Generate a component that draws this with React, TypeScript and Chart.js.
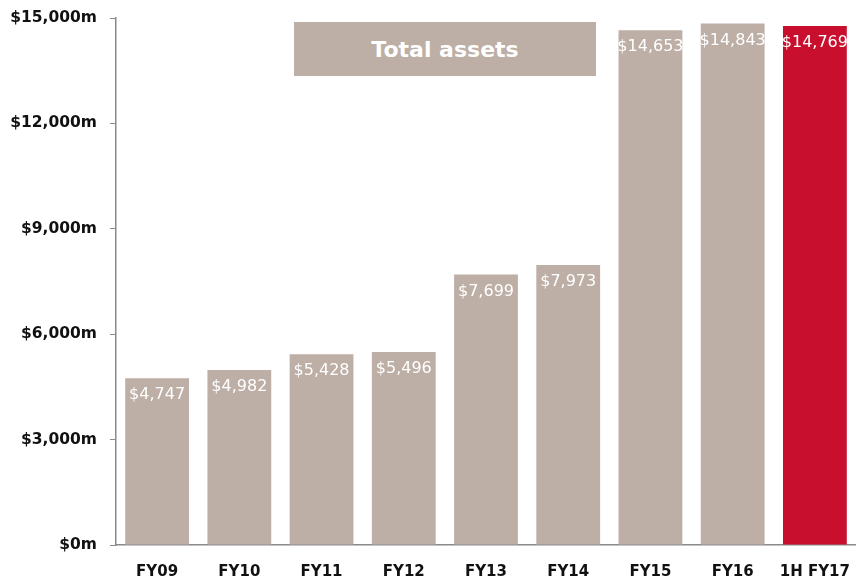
import React, { useEffect, useRef } from "react";
import { Chart, registerables } from "chart.js";

Chart.register(...registerables);

const categories = ["FY09", "FY10", "FY11", "FY12", "FY13", "FY14", "FY15", "FY16", "1H FY17"];
const totalAssets = [4747, 4982, 5428, 5496, 7699, 7973, 14653, 14843, 14769];
const barColors = ["#bdaea6", "#bdaea6", "#bdaea6", "#bdaea6", "#bdaea6", "#bdaea6", "#bdaea6", "#bdaea6", "#c8102e"];
const yMax = 15000;
const yStep = 3000;
const chartTitle = "Total assets";

const fmt = (v: number) => "$" + Math.round(v).toLocaleString("en-US");

const valueLabels = {
  id: "valueLabels",
  afterDatasetsDraw(chart: any) {
    const ctx = chart.ctx;
    const meta = chart.getDatasetMeta(0);
    ctx.save();
    ctx.fillStyle = "#ffffff";
    ctx.font = "16px 'DejaVu Sans'";
    ctx.textAlign = "center";
    ctx.textBaseline = "middle";
    meta.data.forEach((bar: any, i: number) => {
      ctx.fillText(fmt(totalAssets[i]), bar.x, bar.y + 17);
    });
    ctx.restore();
  },
};

export default function App() {
  const ref = useRef<HTMLCanvasElement | null>(null);
  useEffect(() => {
    if (!ref.current) return;
    const chart = new Chart(ref.current, {
      type: "bar",
      data: {
        labels: categories,
        datasets: [
          {
            data: totalAssets,
            backgroundColor: barColors,
            categoryPercentage: 0.8,
            barPercentage: 0.97,
          },
        ],
      },
      options: {
        responsive: false,
        animation: false,
        layout: { padding: { top: 18, right: 0, bottom: 0, left: 0 } },
        plugins: { legend: { display: false }, tooltip: { enabled: false }, title: { display: false } },
        scales: {
          x: {
            grid: { display: false, drawTicks: false },
            border: { display: true, color: "#8a8a8a", width: 1.5 },
            ticks: { color: "#111", font: { family: "'DejaVu Sans'", size: 15, weight: "bold" }, padding: 18 },
            afterFit: (s: any) => {
              s.height = 36;
              s.paddingLeft = 0;
              s.paddingRight = 0;
            },
          },
          y: {
            min: 0,
            max: yMax,
            grid: { drawOnChartArea: false, drawTicks: true, tickLength: 6, color: "#8a8a8a" },
            border: { display: true, color: "#8a8a8a", width: 1.5 },
            ticks: {
              stepSize: yStep,
              color: "#111",
              padding: 13,
              font: { family: "'DejaVu Sans'", size: 15.5, weight: "bold" },
              callback: (v: any) => fmt(Number(v)) + "m",
            },
            afterFit: (s: any) => {
              s.width = 116;
              s.paddingTop = 0;
              s.paddingBottom = 0;
            },
          },
        },
      },
      plugins: [valueLabels],
    });
    return () => chart.destroy();
  }, []);
  return (
    <div style={{ position: "absolute", left: 0, top: 0, width: 856, height: 581, background: "#fff" }}>
      <canvas ref={ref} width={856} height={581} />
      <div
        style={{
          position: "absolute",
          left: 294,
          top: 22,
          width: 302,
          height: 54,
          background: "#bdaea6",
          color: "#fff",
          fontFamily: "'DejaVu Sans'",
          fontWeight: "bold",
          fontSize: 22,
          display: "flex",
          alignItems: "center",
          justifyContent: "center",
        }}
      >
        {chartTitle}
      </div>
    </div>
  );
}
